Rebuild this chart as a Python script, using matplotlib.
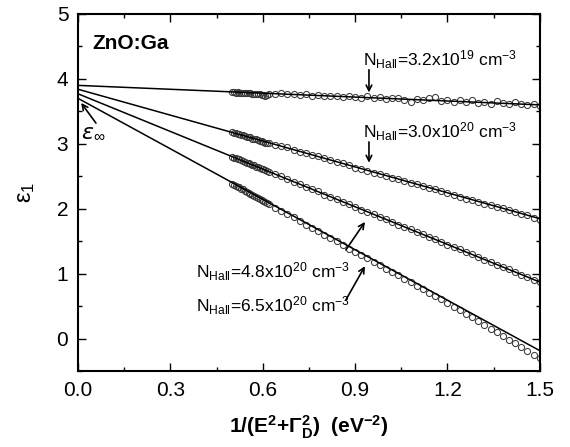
"""
Dielectric function eps_1 vs 1/(E^2+Gamma_D^2) for ZnO:Ga films
"""

import matplotlib
matplotlib.use('Agg')
import matplotlib.pyplot as plt
from matplotlib.ticker import MultipleLocator

plt.rcParams['font.family'] = ['Liberation Sans', 'DejaVu Sans']
plt.rcParams['mathtext.default'] = 'regular'

# photon-energy axis, 1/(E^2+Gamma_D^2) in eV^-2 (shared by all samples)
inv_e2 = [0.500, 0.506, 0.512, 0.518, 0.524, 0.530, 0.536, 0.542, 0.548, 0.554,
          0.560, 0.566, 0.572, 0.578, 0.584, 0.590, 0.596, 0.602, 0.608, 0.614,
          0.620,
          0.64, 0.66, 0.68, 0.70, 0.72, 0.74, 0.76, 0.78, 0.80, 0.82,
          0.84, 0.86, 0.88, 0.90, 0.92, 0.94, 0.96, 0.98, 1.00, 1.02,
          1.04, 1.06, 1.08, 1.10, 1.12, 1.14, 1.16, 1.18, 1.20, 1.22,
          1.24, 1.26, 1.28, 1.30, 1.32, 1.34, 1.36, 1.38, 1.40, 1.42,
          1.44, 1.46, 1.48, 1.50]

# measured eps_1 for each Hall concentration
eps_3p2e19 = [3.80, 3.80, 3.79, 3.80, 3.79, 3.79, 3.79, 3.78, 3.79, 3.78,
              3.78, 3.77, 3.77, 3.77, 3.76, 3.76, 3.75, 3.75, 3.74, 3.75,
              3.76,
              3.77, 3.78, 3.76, 3.77, 3.75, 3.76, 3.74, 3.75, 3.74, 3.73,
              3.74, 3.72, 3.73, 3.72, 3.71, 3.74, 3.70, 3.72, 3.69, 3.71,
              3.70, 3.68, 3.64, 3.69, 3.67, 3.70, 3.72, 3.66, 3.68, 3.65,
              3.67, 3.64, 3.68, 3.63, 3.65, 3.62, 3.66, 3.63, 3.61, 3.64,
              3.62, 3.60, 3.61, 3.59]

eps_3p0e20 = [3.18, 3.17, 3.16, 3.15, 3.15, 3.13, 3.13, 3.12, 3.11, 3.10,
              3.10, 3.08, 3.08, 3.07, 3.06, 3.05, 3.04, 3.03, 3.02, 3.02,
              3.01,
              2.99, 2.96, 2.95, 2.91, 2.88, 2.86, 2.83, 2.81, 2.78, 2.75,
              2.72, 2.70, 2.67, 2.63, 2.62, 2.59, 2.56, 2.54, 2.50, 2.48,
              2.46, 2.43, 2.40, 2.38, 2.36, 2.32, 2.30, 2.27, 2.24, 2.22,
              2.19, 2.15, 2.14, 2.11, 2.08, 2.06, 2.03, 2.01, 1.98, 1.95,
              1.92, 1.90, 1.86, 1.83]

eps_4p8e20 = [2.80, 2.79, 2.78, 2.77, 2.76, 2.75, 2.74, 2.72, 2.71, 2.70,
              2.69, 2.68, 2.67, 2.65, 2.64, 2.63, 2.62, 2.61, 2.60, 2.58,
              2.57,
              2.53, 2.50, 2.46, 2.42, 2.38, 2.34, 2.30, 2.27, 2.22, 2.19,
              2.15, 2.11, 2.07, 2.03, 1.99, 1.96, 1.92, 1.88, 1.84, 1.80,
              1.76, 1.72, 1.69, 1.65, 1.61, 1.57, 1.53, 1.49, 1.45, 1.41,
              1.38, 1.34, 1.30, 1.26, 1.22, 1.18, 1.14, 1.11, 1.07, 1.03,
              0.99, 0.95, 0.91, 0.87]

eps_6p5e20 = [2.39, 2.37, 2.36, 2.34, 2.33, 2.31, 2.30, 2.28, 2.26, 2.25,
              2.23, 2.22, 2.20, 2.19, 2.17, 2.15, 2.14, 2.12, 2.11, 2.09,
              2.08,
              2.02, 1.97, 1.92, 1.87, 1.81, 1.76, 1.71, 1.66, 1.60, 1.55,
              1.50, 1.45, 1.39, 1.34, 1.29, 1.24, 1.18, 1.13, 1.08, 1.03,
              0.98, 0.92, 0.87, 0.82, 0.77, 0.71, 0.66, 0.61, 0.55, 0.49,
              0.44, 0.38, 0.33, 0.27, 0.22, 0.16, 0.11, 0.05, -0.01, -0.06,
              -0.12, -0.18, -0.24, -0.30]

samples = [eps_3p2e19, eps_3p0e20, eps_4p8e20, eps_6p5e20]

# linear Drude fits: eps_inf at x=0 and fitted value at x=1.5
fit_eps_inf = [3.90, 3.84, 3.77, 3.70]
fit_end = [3.60, 1.85, 0.875, -0.18]
fit_x = [0.0, 1.5]

labels = [r'N$_{Hall}$=3.2x10$^{19}$ cm$^{-3}$',
          r'N$_{Hall}$=3.0x10$^{20}$ cm$^{-3}$',
          r'N$_{Hall}$=4.8x10$^{20}$ cm$^{-3}$',
          r'N$_{Hall}$=6.5x10$^{20}$ cm$^{-3}$']

fig = plt.figure(figsize=(5.70, 4.47), dpi=100)
ax = fig.add_axes([0.137, 0.169, 0.810, 0.800])

for eps in samples:
    ax.plot(inv_e2, eps, linestyle='none', marker='o', ms=4.4, mew=0.75,
            mfc='none', mec='#3a3a3a', zorder=2)

for e0, e1 in zip(fit_eps_inf, fit_end):
    ax.plot(fit_x, [e0, e1], color='black', lw=1.1, zorder=3)

arrow = dict(arrowstyle='->', color='black', lw=1.2, shrinkA=0, shrinkB=0,
             mutation_scale=10)

# labels with arrows pointing to each curve
ax.annotate('', xy=(0.945, 3.79), xytext=(0.945, 4.14), arrowprops=arrow)
ax.text(0.925, 4.20, labels[0], fontsize=12.5, va='baseline')
ax.annotate('', xy=(0.945, 2.71), xytext=(0.945, 3.03), arrowprops=arrow)
ax.text(0.925, 3.09, labels[1], fontsize=12.5, va='baseline')
ax.annotate('', xy=(0.932, 1.80), xytext=(0.870, 1.37), arrowprops=arrow)
ax.text(0.383, 0.94, labels[2], fontsize=12.5, va='baseline')
ax.annotate('', xy=(0.932, 1.12), xytext=(0.870, 0.60), arrowprops=arrow)
ax.text(0.383, 0.42, labels[3], fontsize=12.5, va='baseline')

# eps_inf marker
ax.annotate('', xy=(0.010, 3.63), xytext=(0.058, 3.32), arrowprops=arrow)
ax.text(0.049, 3.18, r'$\mathit{\varepsilon}_{\infty}$', fontsize=16,
        ha='center', va='center')

ax.text(0.045, 4.55, 'ZnO:Ga', fontsize=15, fontweight='bold',
        va='center', ha='left')

ax.set_xlim(0.0, 1.5)
ax.set_ylim(-0.5, 5.0)
ax.xaxis.set_major_locator(MultipleLocator(0.3))
ax.xaxis.set_minor_locator(MultipleLocator(0.15))
ax.yaxis.set_major_locator(MultipleLocator(1))
ax.yaxis.set_minor_locator(MultipleLocator(0.5))
ax.xaxis.set_major_formatter(plt.FuncFormatter(lambda v, p: '{0:.1f}'.format(v)))
ax.yaxis.set_major_formatter(plt.FuncFormatter(lambda v, p: '{0:.0f}'.format(v)))

ax.tick_params(which='both', direction='in', top=True, right=True,
               labelsize=15, width=1.0)
ax.tick_params(which='major', length=6, pad=7)
ax.tick_params(which='minor', length=3)
for s in ax.spines.values():
    s.set_linewidth(1.5)

ax.set_xlabel(r'1/(E$^2$+$\Gamma_D^2$)  (eV$^{-2}$)', fontsize=15,
              fontweight='bold', labelpad=10)
ax.set_ylabel(r'$\varepsilon_1$', fontsize=17, labelpad=14)

plt.savefig('out.png', dpi=100)
